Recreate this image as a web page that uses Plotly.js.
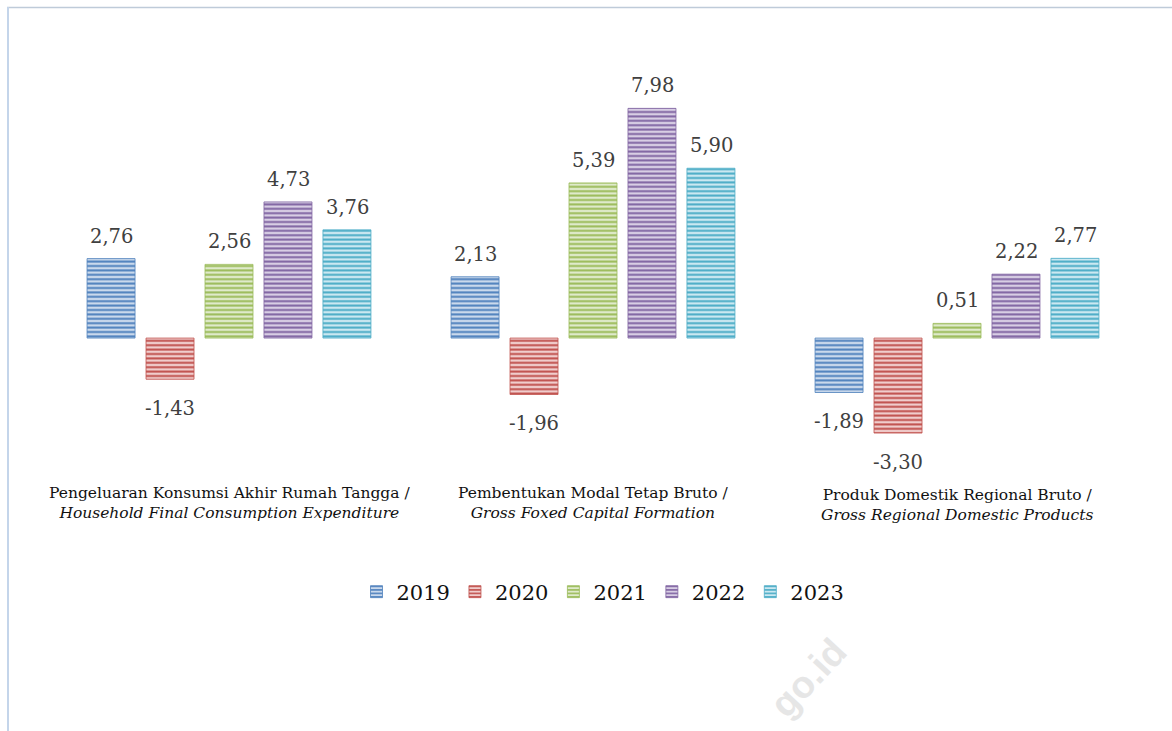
<!DOCTYPE html>
<html>
<head>
<meta charset="utf-8">
<script src="https://cdn.plot.ly/plotly-3.0.1.min.js"></script>
<style>html,body{margin:0;padding:0;background:#fff;}#chart{width:1172px;height:731px;}</style>
</head>
<body>
<div id="chart"></div>
<script>
// ---- data ----
var categoriesLine1 = [
  "Pengeluaran Konsumsi Akhir Rumah Tangga /",
  "Pembentukan Modal Tetap Bruto /",
  "Produk Domestik Regional Bruto /"
];
var categoriesLine2 = [
  "Household Final Consumption Expenditure",
  "Gross Foxed Capital Formation",
  "Gross Regional Domestic Products"
];
var years = ["2019", "2020", "2021", "2022", "2023"];
var v2019 = [2.76, 2.13, -1.89];
var v2020 = [-1.43, -1.96, -3.30];
var v2021 = [2.56, 5.39, 0.51];
var v2022 = [4.73, 7.98, 2.22];
var v2023 = [3.76, 5.90, 2.77];
var seriesValues = [v2019, v2020, v2021, v2022, v2023];

// ---- styling ----
var darkColors = ["#4f81bd", "#c0504d", "#9bbb59", "#8064a2", "#4bacc6"];
var lightColors = ["#cad9ec", "#f0cdcc", "#dfeacb", "#d8cee4", "#cbe8f1"];
var W = 1172, H = 731;
var mL = 47, mR = 33, mT = 79, mB = 249;
var plotW = W - mL - mR, plotH = H - mT - mB;
function px2x(px){ return (px - mL) / plotW; }
function px2y(py){ return (H - mB - py) / plotH; }

var xIdx = [0, 1, 2];
var traces = years.map(function(y, i){
  return {
    type: "bar",
    name: y,
    x: xIdx,
    y: seriesValues[i],
    marker: {
      color: lightColors[i],
      line: {color: darkColors[i], width: 0.8},
      pattern: {shape: "-", fgcolor: darkColors[i], bgcolor: lightColors[i], size: 4.4, solidity: 0.45, fillmode: "replace"}
    },
    hoverinfo: "none"
  };
});

var annotations = [];
var slot = 59;
years.forEach(function(y, i){
  seriesValues[i].forEach(function(v, j){
    var pos = v >= 0;
    annotations.push({
      x: xIdx[j], y: v, xref: "x", yref: "y",
      text: v.toFixed(2).replace(".", ","),
      showarrow: false,
      xshift: (i - 2) * slot,
      yanchor: pos ? "bottom" : "top",
      yshift: pos ? 9 : -16,
      font: {family: "DejaVu Serif, serif", size: 19.5, color: "#404040"}
    });
  });
});
categoriesLine1.forEach(function(c, j){
  annotations.push({
    x: xIdx[j], xref: "x", y: px2y(j === 2 ? 505 : 503), yref: "paper",
    text: c + "<br><i>" + categoriesLine2[j] + "</i>",
    showarrow: false, yanchor: "middle", xanchor: "center", align: "center",
    font: {family: "DejaVu Serif, serif", size: 15.5, color: "#111111"}
  });
});
annotations.push({
  x: px2x(808), y: px2y(678), xref: "paper", yref: "paper",
  xanchor: "center", yanchor: "middle",
  text: "<b>go.id</b>", showarrow: false, textangle: -47,
  font: {family: "Arial, Liberation Sans, sans-serif", size: 38, color: "#e6e6e6"}
});

var layout = {
  width: W, height: H,
  margin: {l: mL, r: mR, t: mT, b: mB, pad: 0},
  paper_bgcolor: "#ffffff", plot_bgcolor: "#ffffff",
  barmode: "group", bargap: 0.19, bargroupgap: 0.186,
  showlegend: true,
  legend: {orientation: "h", x: px2x(603), xanchor: "center", y: px2y(592), yanchor: "middle",
           font: {family: "DejaVu Serif, serif", size: 21, color: "#111111"}, itemwidth: 30, traceorder: "normal"},
  xaxis: {range: [-0.5, 2.5], showticklabels: false, showgrid: false, zeroline: false, showline: false, ticks: "", fixedrange: true},
  yaxis: {range: [-5, 9], showticklabels: false, showgrid: false, zeroline: false, showline: false, ticks: "", fixedrange: true},
  annotations: annotations,
  shapes: [
    {type: "line", xref: "paper", yref: "paper", x0: px2x(7), x1: px2x(1172), y0: px2y(7.5), y1: px2y(7.5), line: {color: "#bfcbd9", width: 1.5}},
    {type: "line", xref: "paper", yref: "paper", x0: px2x(8), x1: px2x(8), y0: px2y(7), y1: px2y(731), line: {color: "#c4d5ea", width: 2}}
  ]
};
Plotly.newPlot("chart", traces, layout, {displayModeBar: false, staticPlot: true});
</script>
</body>
</html>
